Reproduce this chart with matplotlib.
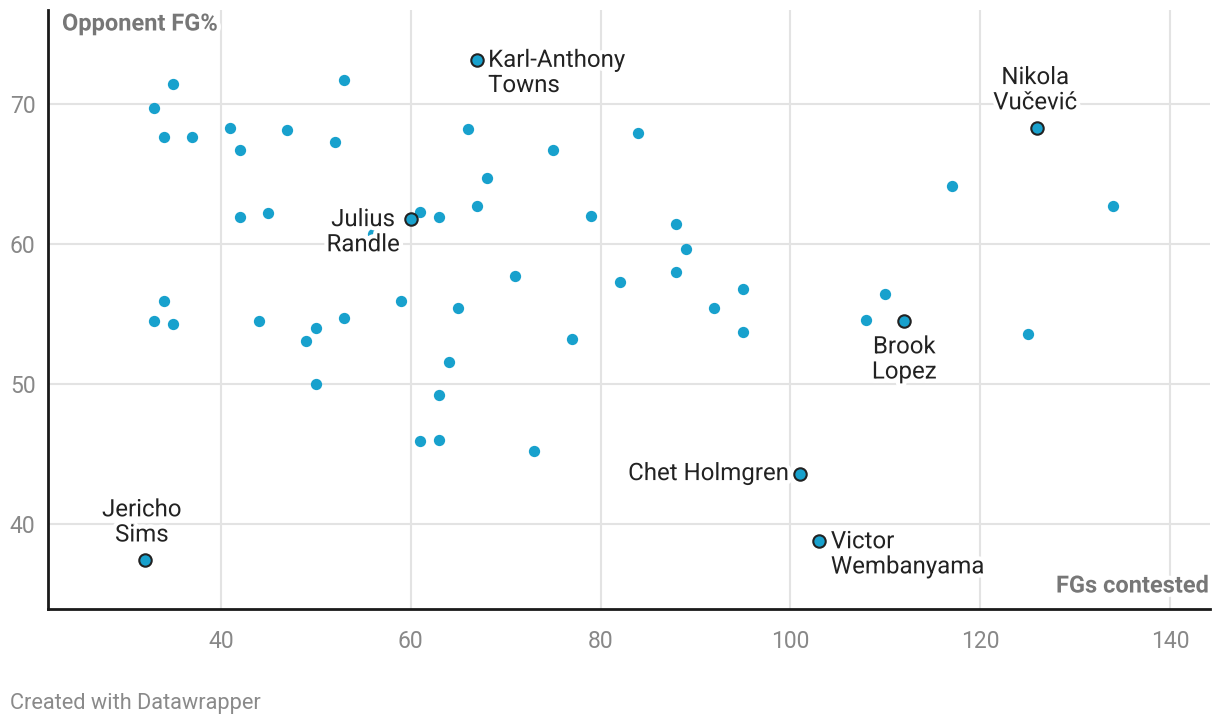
import matplotlib
matplotlib.use("Agg")
import matplotlib.pyplot as plt
import matplotlib.patheffects as pe

plt.rcParams['font.family'] = ['Roboto', 'DejaVu Sans']

# Data: FGs contested vs opponent FG%
fgs_contested = [33, 35, 34, 37, 41, 42, 47, 52, 53, 42, 45, 56, 61, 63, 66,
                 68, 67, 75, 84, 79, 88, 89, 88, 82, 71, 65, 59, 53, 50, 49,
                 44, 34, 33, 35, 50, 64, 77, 63, 61, 63, 73, 92, 95, 95, 108,
                 110, 117, 134, 125]
opp_fg_pct = [69.7, 71.4, 67.6, 67.6, 68.3, 66.7, 68.1, 67.3, 71.7, 61.9, 62.2,
              60.7, 62.3, 61.9, 68.2, 64.7, 62.7, 66.7, 67.9, 62.0, 61.4, 59.6,
              58.0, 57.3, 57.7, 55.4, 55.9, 54.7, 54.0, 53.1, 54.5, 55.9, 54.5,
              54.3, 50.0, 51.6, 53.2, 49.2, 45.9, 46.0, 45.2, 55.4, 56.8, 53.7,
              54.6, 56.4, 64.1, 62.7, 53.6]

hl_names = ["Karl-Anthony\nTowns", "Nikola\nVučević", "Julius\nRandle",
            "Brook\nLopez", "Chet Holmgren", "Victor\nWembanyama",
            "Jericho\nSims"]
hl_x = [67, 126, 60, 112, 101, 103, 32]
hl_y = [73.1, 68.3, 61.8, 54.5, 43.6, 38.8, 37.4]
# label placement (offset pixels, alignment)
hl_offsets = [(11, -12.5), (-2, 37.5), (-11, -13.5), (0, -38.5), (-11, 0),
              (12, -13.5), (-3, 38)]
hl_ha = ["left", "center", "right", "center", "right", "left", "center"]
hl_ma = ["left", "center", "center", "center", "center", "left", "center"]

x_ticks = [40, 60, 80, 100, 120, 140]
y_ticks = [40, 50, 60, 70]

dot_color = "#18a1cd"

fig = plt.figure(figsize=(12.2, 7.26), dpi=100)
ax = fig.add_axes([48/1220, 1 - 609/726, (1210-48)/1220, (609-10)/726])
ax.set_xlim(21.8, 144.2)
ax.set_ylim(33.93, 76.7)

ax.set_xticks(x_ticks)
ax.set_yticks(y_ticks)
ax.grid(True, color="#e3e3e3", linewidth=1.5, zorder=0)
ax.set_axisbelow(True)
for s in ["top", "right"]:
    ax.spines[s].set_visible(False)
for s in ["left", "bottom"]:
    ax.spines[s].set_color("#1a1a1a")
    ax.spines[s].set_linewidth(2)
    ax.spines[s].set_zorder(5)
ax.tick_params(length=0, labelsize=16.5, labelcolor="#888888")
ax.tick_params(axis="x", pad=15)
ax.tick_params(axis="y", pad=9)

ax.scatter(fgs_contested, opp_fg_pct, s=66, color=dot_color, linewidths=0, zorder=3)
ax.scatter(hl_x, hl_y, s=80, color=dot_color, edgecolors="#222222",
           linewidths=1.5, zorder=4)

halo = [pe.withStroke(linewidth=6, foreground="white")]
for name, x, y, off, ha, ma in zip(hl_names, hl_x, hl_y, hl_offsets, hl_ha, hl_ma):
    ax.annotate(name, (x, y), xytext=off, textcoords="offset pixels",
                ha=ha, va="center", multialignment=ma, fontsize=17.3,
                color="#222222", linespacing=1.12, path_effects=halo, zorder=6)

fig.text(62/1220, 1 - 24/726, "Opponent FG%", fontsize=17, fontweight="bold",
         color="#777777", ha="left", va="center",
         path_effects=halo, zorder=7)
fig.text(1209/1220, 1 - 586/726, "FGs contested", fontsize=17, fontweight="bold",
         color="#777777", ha="right", va="center",
         path_effects=halo, zorder=7)
fig.text(10/1220, 1 - 703/726, "Created with Datawrapper", fontsize=15.7,
         color="#8a8a8a", ha="left", va="center")

fig.savefig("out.png", dpi=100)
